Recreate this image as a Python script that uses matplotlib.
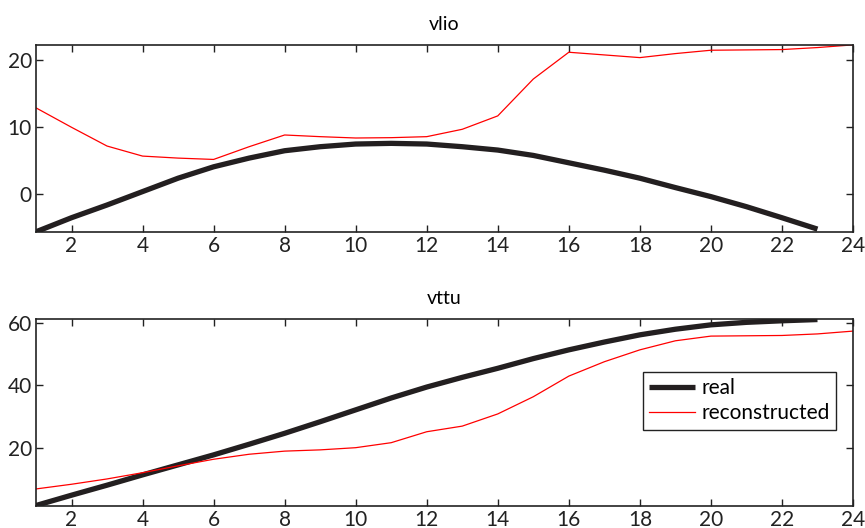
import matplotlib
matplotlib.use("Agg")
import matplotlib.pyplot as plt

# datos
t_real = list(range(1, 24))
t_rec = list(range(1, 25))

vlio_real = [-5.6, -3.5, -1.6, 0.4, 2.4, 4.1, 5.4, 6.5, 7.1, 7.5, 7.6, 7.5,
             7.1, 6.6, 5.8, 4.7, 3.6, 2.4, 1.0, -0.35, -1.85, -3.5, -5.2]
vlio_rec = [12.9, 10.0, 7.2, 5.7, 5.4, 5.2, 7.1, 8.85, 8.6, 8.4, 8.45, 8.6,
            9.7, 11.7, 17.2, 21.2, 20.8, 20.4, 21.0, 21.5, 21.55, 21.6, 21.9, 22.3]

vttu_real = [1.5, 4.8, 8.0, 11.3, 14.5, 17.7, 21.1, 24.6, 28.3, 32.1, 35.9, 39.4,
             42.5, 45.4, 48.5, 51.3, 53.8, 56.1, 57.9, 59.3, 60.1, 60.6, 61.0]
vttu_rec = [6.8, 8.3, 10.0, 12.0, 14.2, 16.3, 17.9, 18.9, 19.3, 20.0, 21.6, 25.1,
            26.9, 30.8, 36.3, 42.9, 47.5, 51.3, 54.2, 55.7, 55.8, 55.9, 56.4, 57.3]

x_ticks = list(range(2, 25, 2))

plt.rcParams['font.family'] = ['Lato', 'DejaVu Sans']
plt.rcParams['font.size'] = 15

fig = plt.figure(figsize=(8.65, 5.28), dpi=100)
ax1 = fig.add_axes([0.0416, 0.561, 0.9445, 0.354])
ax2 = fig.add_axes([0.0416, 0.042, 0.9445, 0.354])


def estilo(ax, titulo, ylim, yticks):
    ax.set_xlim(1, 24)
    ax.set_ylim(*ylim)
    ax.set_xticks(x_ticks)
    ax.set_yticks(yticks)
    ax.tick_params(direction="in", top=True, right=True, length=5,
                   width=1, colors="#222222", pad=3, labelsize=15)
    for s in ax.spines.values():
        s.set_linewidth(1.2)
        s.set_color("#222222")
    ax.set_title(titulo, fontsize=14, pad=11)


ax1.plot(t_real, vlio_real, color="#231f20", lw=3.8, solid_capstyle="butt", label="real")
ax1.plot(t_rec, vlio_rec, color="red", lw=0.9, label="reconstructed")
estilo(ax1, "vlio", (-5.6, 22.3), [0, 10, 20])

ax2.plot(t_real, vttu_real, color="#231f20", lw=3.8, solid_capstyle="butt", label="real")
ax2.plot(t_rec, vttu_rec, color="red", lw=0.9, label="reconstructed")
estilo(ax2, "vttu", (1.4, 61.2), [20, 40, 60])

leg = ax2.legend(loc="upper right", bbox_to_anchor=(0.979, 0.716), borderaxespad=0,
                 fancybox=False, framealpha=1, edgecolor="#222222", borderpad=0.3,
                 labelspacing=0.25, handlelength=2.2, handletextpad=0.3, fontsize=15)
leg.get_frame().set_linewidth(1.0)

fig.savefig("out.png", dpi=100)
